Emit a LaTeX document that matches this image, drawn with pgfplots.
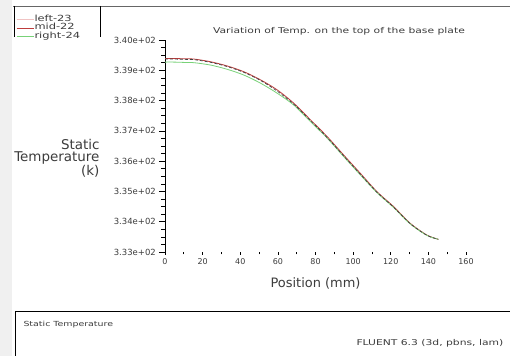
\documentclass[border=0pt]{standalone}
\usepackage{fontspec}
\setmainfont{DejaVu Sans}
\newfontfamily\wide[FakeStretch=1.35]{DejaVu Sans}
\usepackage{pgfplots}
\pgfplotsset{compat=1.18}
\definecolor{fred}{RGB}{190,60,60}
\definecolor{fgreen}{RGB}{120,210,120}
\definecolor{fpink}{RGB}{240,195,195}
\definecolor{fgray}{RGB}{240,240,240}
\definecolor{ftext}{RGB}{60,60,60}
\begin{document}
\begin{tikzpicture}
\useasboundingbox (0bp,0bp) rectangle (510bp,356bp);
\clip (0bp,0bp) rectangle (510bp,356bp);
\fill[white] (0bp,0bp) rectangle (510bp,356bp);
\fill[fgray] (0bp,0bp) rectangle (12bp,356bp);
\draw[black!60, line width=0.8bp] (13bp,350bp) -- (510bp,350bp);
\draw[black, line width=0.8bp] (14bp,350bp) -- (14bp,319bp);
\draw[black, line width=0.8bp] (100bp,350bp) -- (100bp,319bp);
\draw[black, line width=0.8bp] (15bp,0bp) -- (15bp,45bp) -- (512bp,45bp);
\node[anchor=west, font=\wide\fontsize{7}{8}\selectfont, text=ftext] at (20bp,31bp) {Static Temperature};
\node[anchor=west, font=\wide\fontsize{8}{9}\selectfont, text=ftext] at (353bp,13bp) {FLUENT 6.3 (3d, pbns, lam)};

\begin{axis}[
  at={(165bp,104bp)}, anchor=south west, scale only axis,
  width=301bp, height=212bp,
  xmin=0, xmax=160, ymin=333, ymax=340,
  axis y line*=left, axis x line*=bottom,
  x axis line style={draw=none}, xtick=\empty,
  y axis line style={line width=0.8bp, black},
  ytick={333,334,335,336,337,338,339,340},
  yticklabels={3.33e+02,3.34e+02,3.35e+02,3.36e+02,3.37e+02,3.38e+02,3.39e+02,3.40e+02},
  minor y tick num=3,
  tick align=outside, major tick length=6bp, minor tick length=3.5bp,
  tick style={black, line width=0.7bp},
  yticklabel style={font=\fontsize{8.5}{9}\selectfont, text=ftext, inner sep=0pt, xshift=-3bp},
  title={Variation of Temp. on the top of the base plate},
  title style={font=\wide\fontsize{8}{9}\selectfont, text=ftext, at={(axis description cs:0.578,1.014)}, anchor=center},
  ylabel={Static\\Temperature\\(k)},
  ylabel style={rotate=-90, align=right, font=\fontsize{13.5}{12.5}\selectfont, text=ftext, at={(axis description cs:-0.206,0.443)}, anchor=east},
  legend style={at={(axis description cs:-0.495,1.118)}, anchor=north west, draw=none, fill=none,
    font=\wide\fontsize{8.5}{9}\selectfont, text=ftext, row sep=0bp, inner sep=0pt,
    nodes={inner sep=0.5bp, text height=5.5bp, text depth=2bp}},
  legend cell align=left,
]
\addlegendimage{fpink, line width=0.8bp}
\addlegendentry{left-23}
\addplot[fred, line width=0.8bp, smooth] coordinates {
(0,339.39) (5,339.39) (10,339.38) (15.5,339.37) (24.4,339.28) (33.2,339.14) (42,338.95)
(50.9,338.68) (59.7,338.35) (68.5,337.91) (77.4,337.36) (86.2,336.81) (95,336.20)
(103.8,335.60) (112.7,334.99) (121.5,334.50) (130.3,333.95) (139.2,333.56) (145.3,333.42)};
\addlegendentry{mid-22}
\addplot[fgreen, line width=0.8bp, smooth] coordinates {
(0,339.27) (5,339.27) (10,339.26) (15.5,339.25) (24.4,339.17) (33.2,339.03) (42,338.84)
(50.9,338.57) (59.7,338.24) (68.5,337.85) (77.4,337.30) (86.2,336.76) (95,336.15)
(103.8,335.55) (112.7,334.96) (121.5,334.47) (130.3,333.93) (139.2,333.55) (145.3,333.42)};
\addlegendentry{right-24}
\addplot[black!75, line width=0.7bp, densely dashed, smooth, forget plot] coordinates {
(0,339.37) (5,339.37) (10,339.36) (15.5,339.35) (24.4,339.26) (33.2,339.12) (42,338.93)
(50.9,338.66) (59.7,338.31) (68.5,337.88) (77.4,337.33) (86.2,336.78) (95,336.17)
(103.8,335.57) (112.7,334.97) (121.5,334.48) (130.3,333.94) (139.2,333.55) (145.3,333.42)};
\end{axis}

\begin{axis}[
  at={(165bp,104bp)}, anchor=south west, scale only axis,
  width=301bp, height=212bp,
  xmin=0, xmax=160, ymin=333, ymax=340,
  axis y line=none, axis x line*=bottom,
  x axis line style={draw=none},
  xtick={0,20,40,60,80,100,120,140,160},
  minor x tick num=1,
  tick align=outside, major tick length=3bp, minor tick length=2.5bp,
  tick style={black, line width=0.7bp},
  /pgf/number format/assume math mode=true,
  xticklabel style={font=\fontsize{8}{9}\selectfont, text=ftext},
  xlabel={Position (mm)},
  xlabel style={at={(axis description cs:0.5,-0.146)}, anchor=center, font=\fontsize{13}{14}\selectfont, text=ftext},
]
\end{axis}
\end{tikzpicture}
\end{document}
